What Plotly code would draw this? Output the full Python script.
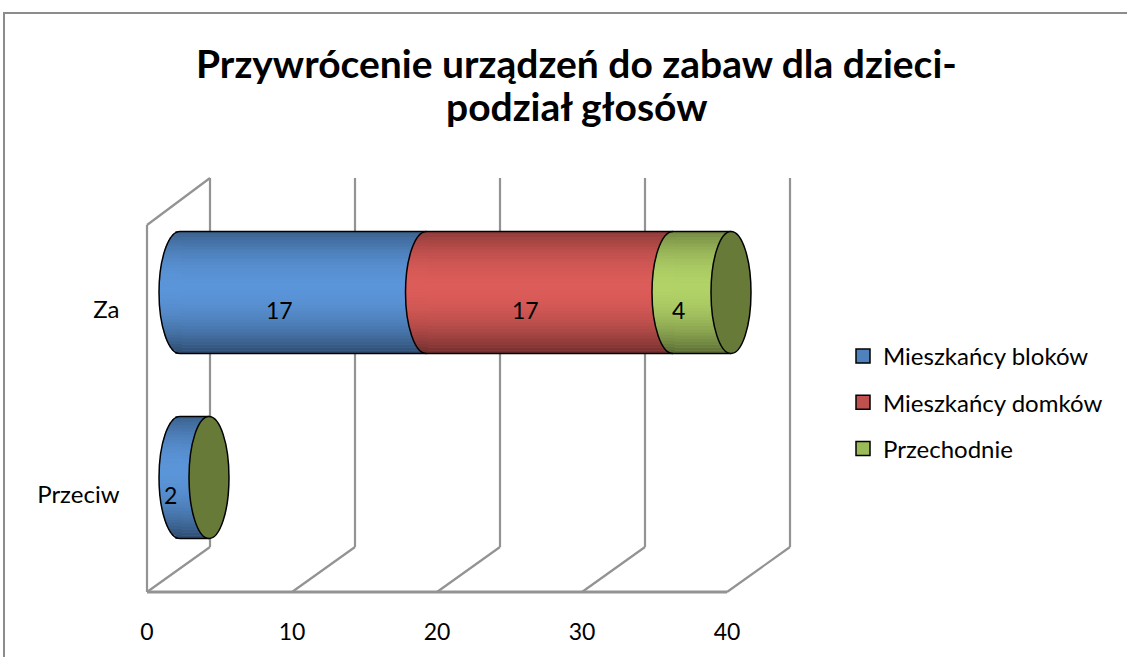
import math
import plotly.graph_objects as go

# ---------------- data ----------------
categories = ["Za", "Przeciw"]
series_names = ["Mieszkańcy bloków", "Mieszkańcy domków", "Przechodnie"]
blocks = [17, 2]
houses = [17, 0]
passers = [4, 0]
x_ticks = [0, 10, 20, 30, 40]
title_lines = ["Przywrócenie urządzeń do zabaw dla dzieci-", "podział głosów"]

# ---------------- style ----------------
W, H = 1127, 657
FONT = "Lato"
face_colors = ["#5b95d9", "#dc5c59", "#b1d267"]   # lit centre of each cylinder
legend_colors = ["#4f81bd", "#c0504d", "#9bbb59"]
cap_color = "#677a38"
grid_color = "#939393"
BAR_W = 0.66
BAR_PX = 122          # bar thickness in pixels
CAP_A = 21            # half width of elliptical ends (pixels)
FRONT, BACK = -33, 30  # depth offsets of floor front / back wall (pixels)
PAD = 3               # axis padding (value units) so the 3D frame isn't clipped
X0_PX, X40_PX = 180, 760
NB = 40               # shading bands


def px(x):
    return x / W


def py(y):
    return 1 - y / H


def darkness(f):
    if f < 0.45:
        return 0.36 * ((0.45 - f) / 0.45) ** 2
    return 0.5 * ((f - 0.45) / 0.55) ** 2


def shade(hex_col, d):
    r, g, b = (int(hex_col[i:i + 2], 16) for i in (1, 3, 5))
    return f"rgb({r*(1-d):.0f},{g*(1-d):.0f},{b*(1-d):.0f})"


values = [blocks, houses, passers]
fig = go.Figure()
for name, vals, col in zip(series_names, values, face_colors):
    fig.add_trace(go.Bar(y=categories, x=vals, orientation="h", name=name,
                         width=BAR_W, marker=dict(color=col, line=dict(width=0)),
                         showlegend=False, hoverinfo="skip"))
for name, col in zip(series_names, legend_colors):
    fig.add_trace(go.Scatter(x=[None], y=[None], mode="markers", name=name,
                             legendgroup=name,
                             marker=dict(symbol="square", size=14, color=col,
                                         line=dict(color="black", width=1.5))))

shapes = []
# outer chart border
shapes.append(dict(type="rect", xref="paper", yref="paper", x0=px(4), x1=px(1135),
                   y0=py(13), y1=py(665), line=dict(color="#8c8c8c", width=2)))

# 3D walls & floor
Y_BACK_TOP, Y_BACK_BOT, Y_FRONT_BOT, Y_LEFT_TOP = 178, 547, 592, 225
gl = dict(color=grid_color, width=2.2)
for t in x_ticks:
    shapes.append(dict(type="line", xref="x", yref="paper", xsizemode="pixel", xanchor=t,
                       x0=BACK, x1=BACK, y0=py(Y_BACK_TOP), y1=py(Y_BACK_BOT), line=gl,
                       layer="below"))
    shapes.append(dict(type="line", xref="x", yref="paper", xsizemode="pixel", xanchor=t,
                       x0=FRONT, x1=BACK, y0=py(Y_FRONT_BOT), y1=py(Y_BACK_BOT), line=gl,
                       layer="below"))
shapes.append(dict(type="line", xref="x", yref="paper", xsizemode="pixel", xanchor=x_ticks[0],
                   x0=FRONT, x1=FRONT + (X40_PX - X0_PX), y0=py(Y_FRONT_BOT), y1=py(Y_FRONT_BOT),
                   line=dict(color=grid_color, width=3), layer="below"))
shapes.append(dict(type="line", xref="x", yref="paper", xsizemode="pixel", xanchor=x_ticks[0],
                   x0=FRONT, x1=FRONT, y0=py(Y_LEFT_TOP), y1=py(Y_FRONT_BOT), line=gl,
                   layer="below"))
shapes.append(dict(type="line", xref="x", yref="paper", xsizemode="pixel", xanchor=x_ticks[0],
                   x0=FRONT, x1=BACK, y0=py(Y_LEFT_TOP), y1=py(Y_BACK_TOP), line=gl,
                   layer="below"))

k = 0.5523
h = BAR_PX / 2
a = CAP_A
left_arc = (f"M 0,{h} C {-k*a},{h} {-a},{k*h} {-a},0 "
            f"C {-a},{-k*h} {-k*a},{-h} 0,{-h}")

for ci, cat in enumerate(categories):
    total = sum(v[ci] for v in values)
    start = 0
    starts = []
    for si, vals in enumerate(values):
        v = vals[ci]
        if v > 0:
            starts.append((start, face_colors[si]))
        start += v
    # cylindrical shading of the body
    for b in range(NB):
        d = darkness((b + 0.5) / NB)
        y0 = ci - BAR_W / 2 + BAR_W * b / NB
        y1 = ci - BAR_W / 2 + BAR_W * (b + 1) / NB
        shapes.append(dict(type="rect", xref="x", yref="y", x0=0, x1=total, y0=y0, y1=y1,
                           fillcolor=f"rgba(0,0,0,{d:.3f})", line=dict(width=0)))
    # rounded (shaded) start of every visible segment
    for s, col in starts:
        for b in range(NB):
            f0, f1 = b / NB, (b + 1) / NB
            fm = (f0 + f1) / 2
            yy = 2 * fm - 1
            half = a * math.sqrt(max(0.0, 1 - yy * yy))
            ytop = h - BAR_PX * f0
            ybot = h - BAR_PX * f1
            shapes.append(dict(type="rect", xref="x", yref="y", xsizemode="pixel",
                               ysizemode="pixel", xanchor=s, yanchor=ci,
                               x0=-half, x1=1.5, y0=ybot - 0.4, y1=ytop + 0.4,
                               fillcolor=shade(col, darkness(fm)), line=dict(width=0)))
    # outlines
    for yy in (ci - BAR_W / 2, ci + BAR_W / 2):
        shapes.append(dict(type="line", xref="x", yref="y", x0=0, x1=total, y0=yy, y1=yy,
                           line=dict(color="black", width=1.5)))
    for s, col in starts:
        shapes.append(dict(type="path", xref="x", yref="y", xsizemode="pixel", ysizemode="pixel",
                           xanchor=s, yanchor=ci, path=left_arc,
                           line=dict(color="black", width=1.5)))
    # end face
    shapes.append(dict(type="circle", xref="x", yref="y", xsizemode="pixel", ysizemode="pixel",
                       xanchor=total, yanchor=ci, x0=-a + 1, x1=a - 1, y0=-h, y1=h,
                       fillcolor=cap_color, line=dict(color="black", width=1.5)))

annotations = []
for ci, cat in enumerate(categories):
    start = 0
    for vals in values:
        v = vals[ci]
        if v > 0:
            annotations.append(dict(x=start + v / 2, y=cat, xref="x", yref="y", text=str(v),
                                    showarrow=False, xshift=-24, yshift=-17,
                                    font=dict(family=FONT, size=23, color="black")))
        start += v

for line_text, yc in zip(title_lines, (63, 106)):
    annotations.append(dict(x=px(576), y=py(yc), xref="paper", yref="paper", text=line_text,
                            showarrow=False, xanchor="center", yanchor="middle",
                            font=dict(family=FONT, size=39, color="black", weight="bold")))

scale = (X40_PX - X0_PX) / (x_ticks[-1] - x_ticks[0])
fig.update_layout(
    width=W, height=H, margin=dict(l=0, r=0, t=0, b=0, autoexpand=False),
    paper_bgcolor="white", plot_bgcolor="rgba(0,0,0,0)",
    barmode="stack", shapes=shapes, annotations=annotations,
    font=dict(family=FONT, size=23, color="black"),
    xaxis=dict(domain=[px(X0_PX - PAD * scale), px(X40_PX + PAD * scale)],
               range=[x_ticks[0] - PAD, x_ticks[-1] + PAD], tickvals=x_ticks,
               showgrid=False, zeroline=False, showline=False, ticks="",
               ticklabelshift=FRONT, ticklabelstandoff=46, automargin=False,
               tickfont=dict(family=FONT, size=23)),
    yaxis=dict(domain=[py(570), py(200)], type="category", categoryorder="array",
               categoryarray=categories, range=[1.5, -0.5], showgrid=False,
               zeroline=False, showline=False, ticks="", ticklabelstandoff=16,
               ticklabelshift=-17, automargin=False, tickfont=dict(family=FONT, size=24)),
    legend=dict(x=px(843), y=py(334), xanchor="left", yanchor="top",
                font=dict(family=FONT, size=24), tracegroupgap=12,
                bgcolor="rgba(0,0,0,0)"),
)

fig.write_html("out.html", config={"displayModeBar": False},
               post_script="document.body.style.margin='0';")
